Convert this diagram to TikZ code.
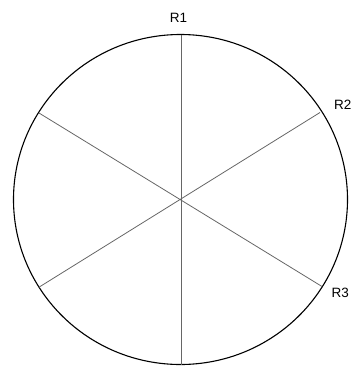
\documentclass[tikz,border=0pt]{standalone}
\usepackage{fontspec}
\setmainfont{Liberation Sans}
\begin{document}
\begin{tikzpicture}[x=1pt,y=-1pt,
  rim/.style={draw=black,line width=1.1pt},
  spoke/.style={draw=black!60,line width=0.8pt},
  lbl/.style={font=\fontsize{13.5}{15}\selectfont,inner sep=0pt}]
\useasboundingbox (0,0) rectangle (352,367);
\coordinate (c) at (180.5,199.5);
\draw[rim] (c) ellipse [x radius=167, y radius=165];
\coordinate (top) at (181,34.5);
\coordinate (bot) at (181,364.5);
\coordinate (ul) at (39,113);
\coordinate (lr) at (322,286.5);
\coordinate (ur) at (320,112.5);
\coordinate (ll) at (38.5,287.5);
\draw[spoke] (top) -- (bot);
\draw[spoke] (ul) -- (lr);
\draw[spoke] (ur) -- (ll);
\node[lbl] (r1) at (178.5,18) {R1};
\node[lbl,anchor=west] (r2) at (334,104.5) {R2};
\node[lbl,anchor=west] (r3) at (331.5,293) {R3};
\end{tikzpicture}
\end{document}
